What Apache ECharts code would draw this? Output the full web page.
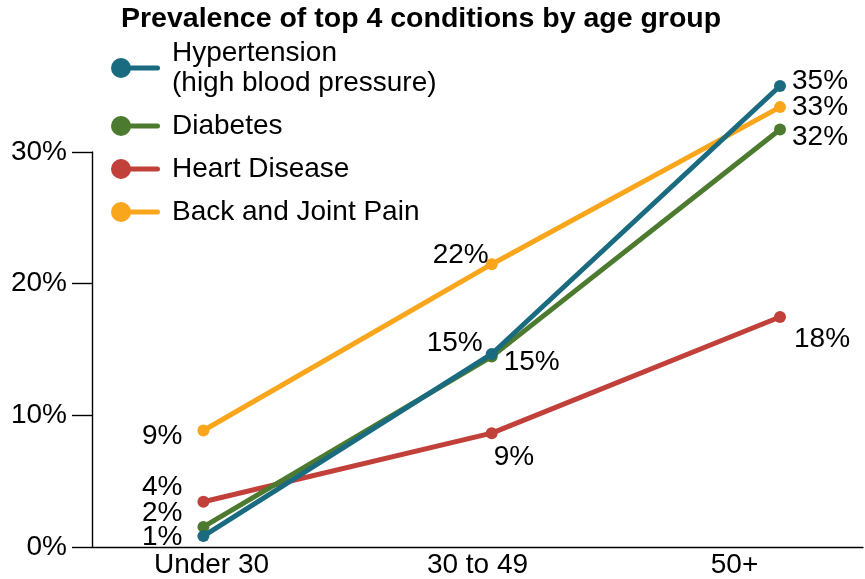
<!DOCTYPE html>
<html>
<head>
<meta charset="utf-8">
<title>Prevalence of top 4 conditions by age group</title>
<script src="https://cdn.jsdelivr.net/npm/echarts@6/dist/echarts.min.js"></script>
<style>
  html, body { margin: 0; padding: 0; background: #ffffff; }
  #chart { width: 865px; height: 579px; }
</style>
</head>
<body>
<div id="chart"></div>
<script>
// Age groups on the x axis
const ageGroups = ['Under 30', '30 to 49', '50+'];

// Share of people with each condition (%), per age group
const hypertension = [0.9, 14.7, 35.0];
const diabetes     = [1.6, 14.5, 31.7];
const heartDisease = [3.5, 8.7, 17.5];
const backPain     = [8.9, 21.5, 33.4];

// Condition names as shown in the legend
const seriesNames = [
  'Hypertension\n(high blood pressure)',
  'Diabetes',
  'Heart Disease',
  'Back and Joint Pain'
];

// Y-axis tick values (%)
const yTicks = [0, 10, 20, 30];

const seriesValues = [hypertension, diabetes, heartDisease, backPain];
const seriesColors = ['#1a6b80', '#4c7a2e', '#c2403a', '#f9a61c'];

// Where each point's value label sits relative to its marker
const labelPlacement = [
  [ { position: 'left', distance: 15, offset: [0, 1] },
    { position: 'left', distance: 3, offset: [0, -11] },
    { position: 'right', distance: 6, offset: [0, -5] } ],
  [ { position: 'left', distance: 15, offset: [0, -14] },
    { position: 'right', distance: 6, offset: [0, 6] },
    { position: 'right', distance: 6, offset: [0, 8] } ],
  [ { position: 'left', distance: 15, offset: [0, -15] },
    { position: 'right', distance: -4, offset: [0, 24] },
    { position: 'right', distance: 8, offset: [0, 22] } ],
  [ { position: 'left', distance: 15, offset: [0, 6] },
    { position: 'left', distance: -3, offset: [0, -9] },
    { position: 'right', distance: 6, offset: [0, 0] } ]
];

const FONT = "'Liberation Sans', Arial, sans-serif";
const TEXT = '#000000';
const FONT_SIZE = 28;

// Legend marker: a dot with a short line running to the right
const legendIcon = 'path://M0,10A10,10 0 1,1 20,10A10,10 0 1,1 0,10Z' +
                   'M18,7.5L46.5,7.5A2.5,2.5 0 0,1 46.5,12.5L18,12.5Z';

const series = seriesValues.map((vals, i) => ({
  name: seriesNames[i],
  type: 'line',
  xAxisIndex: 1,
  yAxisIndex: 1,
  clip: false,
  z: 10 - i,
  symbol: 'circle',
  symbolSize: 12,
  color: seriesColors[i],
  lineStyle: { width: 5, color: seriesColors[i] },
  itemStyle: { color: seriesColors[i] },
  emphasis: { disabled: true },
  label: {
    show: true,
    color: TEXT,
    fontFamily: FONT,
    fontSize: FONT_SIZE,
    formatter: p => Math.round(p.value) + '%'
  },
  data: vals.map((v, j) => ({
    value: v,
    label: labelPlacement[i][j]
  }))
}));

const chart = echarts.init(document.getElementById('chart'), null, { renderer: 'canvas' });

chart.setOption({
  animation: false,
  backgroundColor: '#ffffff',
  title: {
    text: 'Prevalence of top 4 conditions by age group',
    left: 121,
    top: 5,
    padding: 0,
    textStyle: {
      fontFamily: FONT,
      fontWeight: 'bold',
      fontSize: 28.5,
      color: TEXT
    }
  },
  legend: {
    orient: 'vertical',
    left: 111,
    top: 38,
    padding: 0,
    itemGap: 13,
    itemWidth: 49,
    itemHeight: 20,
    icon: legendIcon,
    selectedMode: false,
    data: seriesNames,
    textStyle: {
      fontFamily: FONT,
      fontSize: FONT_SIZE,
      color: TEXT,
      lineHeight: 30,
      padding: [0, 0, 0, 7]
    }
  },
  grid: [
    // visible axes
    { left: 92, right: 2, top: 152, bottom: 31, containLabel: false },
    // plotting area for the lines
    { left: 203.4, right: 85, top: 152, bottom: 31, containLabel: false }
  ],
  xAxis: [
    {
      type: 'category',
      gridIndex: 0,
      data: ageGroups,
      boundaryGap: true,
      axisLine: { lineStyle: { color: '#000', width: 1.4 } },
      axisTick: { length: 11, lineStyle: { color: '#000', width: 1.4 } },
      axisLabel: {
        color: TEXT,
        fontFamily: FONT,
        fontSize: FONT_SIZE,
        margin: 4,
        // first group label sits a little left of its band centre
        formatter: (val, idx) => idx === 0 ? '{first|' + val + '}' : val,
        rich: {
          first: { fontFamily: FONT, fontSize: FONT_SIZE, color: TEXT, padding: [0, 18, 0, 0] }
        }
      },
      splitLine: { show: false }
    },
    {
      type: 'category',
      gridIndex: 1,
      data: ageGroups,
      boundaryGap: false,
      show: false
    }
  ],
  yAxis: [
    {
      type: 'value',
      gridIndex: 0,
      min: yTicks[0],
      max: yTicks[yTicks.length - 1],
      interval: yTicks[1] - yTicks[0],
      axisLine: { show: true, lineStyle: { color: '#000', width: 1.4 } },
      axisTick: { show: true, length: 20, lineStyle: { color: '#000', width: 1.4 } },
      axisLabel: { color: TEXT, fontFamily: FONT, fontSize: FONT_SIZE, margin: 25, formatter: '{value}%' },
      splitLine: { show: false }
    },
    {
      type: 'value',
      gridIndex: 1,
      min: yTicks[0],
      max: yTicks[yTicks.length - 1],
      show: false,
      splitLine: { show: false }
    }
  ],
  series: series
});
</script>
</body>
</html>
